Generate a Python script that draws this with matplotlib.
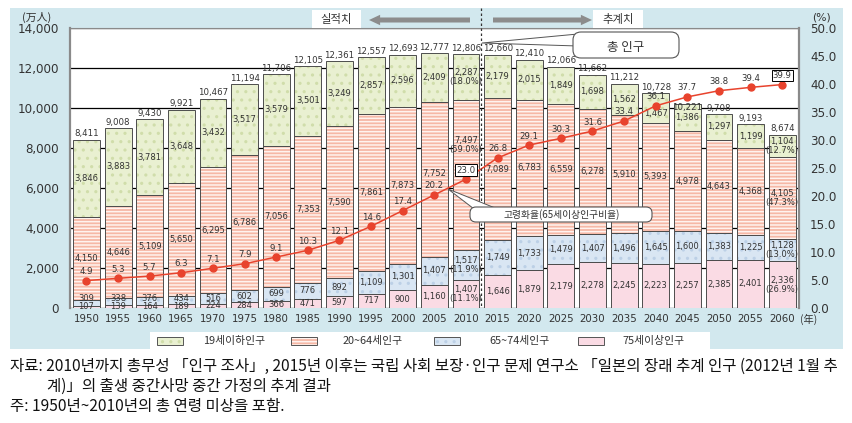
import matplotlib
matplotlib.use("Agg")
import matplotlib.pyplot as plt
from matplotlib.lines import Line2D
from matplotlib.patches import FancyArrowPatch, FancyBboxPatch, Polygon, Rectangle
from matplotlib.transforms import Affine2D

# Japan population by age group (10k persons) and aging rate (%)
years = list(range(1950, 2061, 5))
total = [8411, 9008, 9430, 9921, 10467, 11194, 11706, 12105, 12361, 12557, 12693, 12777,
         12806, 12660, 12410, 12066, 11662, 11212, 10728, 10221, 9708, 9193, 8674]
pop_0_19 = [3846, 3883, 3781, 3648, 3432, 3517, 3579, 3501, 3249, 2857, 2596, 2409,
            2287, 2179, 2015, 1849, 1698, 1562, 1467, 1386, 1297, 1199, 1104]
pop_20_64 = [4150, 4646, 5109, 5650, 6295, 6786, 7056, 7353, 7590, 7861, 7873, 7752,
             7497, 7089, 6783, 6559, 6278, 5910, 5393, 4978, 4643, 4368, 4105]
pop_65_74 = [309, 338, 376, 434, 516, 602, 699, 776, 892, 1109, 1301, 1407,
             1517, 1749, 1733, 1479, 1407, 1496, 1645, 1600, 1383, 1225, 1128]
pop_75_over = [107, 139, 164, 189, 224, 284, 366, 471, 597, 717, 900, 1160,
               1407, 1646, 1879, 2179, 2278, 2245, 2223, 2257, 2385, 2401, 2336]
aging_rate = [4.9, 5.3, 5.7, 6.3, 7.1, 7.9, 9.1, 10.3, 12.1, 14.6, 17.4, 20.2,
              23.0, 26.8, 29.1, 30.3, 31.6, 33.4, 36.1, 37.7, 38.8, 39.4, 39.9]
# shares shown in brackets (0-19, 20-64, 65-74, 75+)
share_2010 = [18.0, 59.0, 11.9, 11.1]
share_2060 = [12.7, 47.3, 13.0, 26.9]
legend_labels = ["19세이하인구", "20~64세인구", "65~74세인구", "75세이상인구"]

KR = ["Noto Sans CJK KR", "DejaVu Sans"]
plt.rcParams["font.family"] = ["DejaVu Sans", "Noto Sans CJK KR"]
plt.rcParams["hatch.linewidth"] = 1.1

W, H = 853, 423
fig = plt.figure(figsize=(W / 100, H / 100), dpi=100)
# top-left origin pixel coordinates
px = Affine2D().scale(0.01, -0.01).translate(0, H / 100) + fig.dpi_scale_trans

fig.add_artist(Rectangle((10, 8), 833, 341, transform=px, fc="#d2e8ee", ec="none", zorder=-1))

ax = fig.add_axes([70 / W, 1 - 308 / H, 729 / W, 280 / H])
ax.set_facecolor("white")
n = len(years)
x = list(range(n))

styles = [
    (pop_75_over, "#fadbe4", "#fadbe4", None),
    (pop_65_74, "#d9e6f3", "#bcd0e6", ".."),
    (pop_20_64, "#f6b8a6", "#fff3ef", "-----"),
    (pop_0_19, "#e9f0d1", "#d0ddaa", ".."),
]
bottom = [0] * n
bounds = []
for values, face, hcol, hatch in styles:
    ax.bar(x, values, 0.85, bottom=bottom, color=face, edgecolor=hcol, hatch=hatch,
           linewidth=0, zorder=2)
    ax.bar(x, values, 0.85, bottom=bottom, fill=False, edgecolor="#4d4d4d",
           linewidth=0.7, zorder=3)
    bounds.append(list(bottom))
    bottom = [b + v for b, v in zip(bottom, values)]
bounds.append(bottom)

ax.set_xlim(-0.52, 22.53)
ax.set_ylim(0, 14000)
ax.set_yticks(range(0, 14001, 2000), [f"{v:,}" for v in range(0, 14001, 2000)])
ax.yaxis.grid(True, color="black", linewidth=0.9)
ax.set_axisbelow(True)
ax.set_xticks(x, [str(y) for y in years])
ax.tick_params(axis="x", length=0, pad=4.5, labelsize=7.4, labelcolor="#333333")
ax.tick_params(axis="y", length=0, pad=8, labelsize=8.6, labelcolor="#333333")
for side in ["left", "right"]:
    ax.spines[side].set_color("#8a8a8a")
    ax.spines[side].set_linewidth(1.6)
ax.spines["top"].set_color("#8a8a8a")
ax.spines["top"].set_linewidth(0.8)
ax.spines["bottom"].set_visible(False)

# segment labels
lab = dict(ha="center", va="center", fontsize=6.0, color="#333333", zorder=4, linespacing=1.0)
PXU = 50  # data units per pixel on the left axis
young_nudge = {2040: -5}
work_nudge = {2005: 6, 2010: 30}
for i, yr in enumerate(years):
    shares = share_2010 if yr == 2010 else share_2060 if yr == 2060 else None
    vals = [pop_75_over[i], pop_65_74[i], pop_20_64[i], pop_0_19[i]]
    order = [3, 2, 1, 0]  # share index for each stacked segment
    for k in range(4):
        lo, hi = bounds[k][i], bounds[k + 1][i]
        mid = (lo + hi) / 2
        if k == 0:
            mid = max(mid, 70)
        elif k == 1:
            mid = max(mid, 500)
        elif k == 2:
            mid += work_nudge.get(yr, 0) * PXU
        else:
            mid += young_nudge.get(yr, 0) * PXU
        txt = f"{vals[k]:,}"
        if shares:
            txt += f"\n({shares[order[k]]:.1f}%)"
        ax.text(i, mid, txt, **lab)
    off = -2.5 if yr == 2045 else 4.2
    ax.annotate(f"{total[i]:,}", (i, bounds[4][i]), xytext=(0, off), textcoords="offset points",
                ha="center", va="center", fontsize=6.2, color="#333333", zorder=4)

ax2 = ax.twinx()
ax2.set_ylim(0, 50)
ax2.set_yticks([v * 5 for v in range(11)], [f"{v * 5:.1f}" for v in range(11)])
ax2.tick_params(axis="y", length=0, pad=8, labelsize=8.6, labelcolor="#333333")
for s in ax2.spines.values():
    s.set_visible(False)
ax2.plot(x, aging_rate, color="#e8432d", lw=1.1, marker="o", ms=5, zorder=5)
for i, r in enumerate(aging_rate):
    box = None
    if years[i] in (2010, 2060):
        box = dict(boxstyle="square,pad=0.15", fc="white", ec="black", lw=0.7)
    ax2.annotate(f"{r:.1f}", (i, r), xytext=(0, 6.5), textcoords="offset points",
                 ha="center", va="center", fontsize=6.2, color="#333333", bbox=box, zorder=6)

# header: arrows, period labels, divider
for x0, x1 in [(470, 369), (493, 592)]:
    fig.add_artist(FancyArrowPatch((x0, 20), (x1, 20), transform=px, shrinkA=0, shrinkB=0,
                                   arrowstyle="simple,head_width=0.75,head_length=0.8,tail_width=0.36",
                                   mutation_scale=10, color="#8c8c8c", lw=0, zorder=5))
for x0, w, s in [(312, 49, "실적치"), (593, 50, "추계치")]:
    fig.add_artist(Rectangle((x0, 10), w, 18, transform=px, fc="white", ec="none", zorder=5))
    fig.text(x0 + w / 2, 20, s, transform=px, ha="center", va="center", fontsize=8.2,
             family=KR, color="#333333", zorder=6)
fig.add_artist(Line2D([481, 481], [8, 308], transform=px, ls=(0, (2, 2)), color="#333333",
                      lw=0.9, zorder=7))

# callouts
fig.add_artist(Polygon([(482, 43), (578, 34), (578, 46)], closed=True, transform=px,
                       fc="white", ec="#555555", lw=0.7, zorder=8))
fig.add_artist(FancyBboxPatch((573, 32), 106, 26, transform=px, fc="white", ec="#555555", lw=0.8,
                              boxstyle="round,pad=0,rounding_size=8", zorder=9))
fig.text(626, 47, "총 인구", transform=px, ha="center", va="center", fontsize=9,
         family=KR, color="#333333", zorder=10)
fig.add_artist(Polygon([(448, 189), (478, 212), (500, 210)], closed=True, transform=px,
                       fc="white", ec="#555555", lw=0.7, zorder=8))
fig.add_artist(FancyBboxPatch((470, 207), 182, 15, transform=px, fc="white", ec="#555555", lw=0.8,
                              boxstyle="round,pad=0,rounding_size=6", zorder=9))
fig.text(562, 214.5, "고령화율(65세이상인구비율)", transform=px, ha="center", va="center",
         fontsize=7, family=KR, color="#333333", zorder=10)

# units
fig.text(22, 17, "(万人)", transform=px, ha="left", va="center", fontsize=7.8, family=KR, color="#333333")
fig.text(812, 17, "(%)", transform=px, ha="left", va="center", fontsize=7.8, color="#333333")
fig.text(800, 319, "(年)", transform=px, ha="left", va="center", fontsize=7.4, family=KR, color="#333333")

# legend
fig.add_artist(Rectangle((150, 332), 560, 18, transform=px, fc="white", ec="none", zorder=5))
leg_x = [157, 291, 434, 578]
txt_x = [203, 343, 489, 622]
for (values, face, hcol, hatch), lx, tx, name in zip(reversed(styles), leg_x, txt_x, legend_labels):
    fig.add_artist(Rectangle((lx, 337), 26, 8, transform=px, fc=face, ec=hcol, hatch=hatch,
                             lw=0, zorder=6))
    fig.add_artist(Rectangle((lx, 337), 26, 8, transform=px, fill=False, ec="#555555",
                             lw=0.7, zorder=7))
    fig.text(tx, 341, name, transform=px, ha="left", va="center", fontsize=7.8, family=KR,
             color="#333333", zorder=7)

# footnotes
note = dict(transform=px, ha="left", va="center", fontsize=11.2, family=KR, color="#111111")
fig.text(10, 366, "자료: 2010년까지 총무성 「인구 조사」, 2015년 이후는 국립 사회 보장·인구 문제 연구소 "
         "「일본의 장래 추계 인구 (2012년 1월 추", **note)
fig.text(47, 386, "계)」의 출생 중간사망 중간 가정의 추계 결과", **note)
fig.text(10, 406, "주: 1950년~2010년의 총 연령 미상을 포함.", **note)

fig.savefig("out.png", dpi=100)
